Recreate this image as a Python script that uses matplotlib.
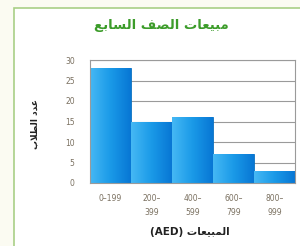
import matplotlib
matplotlib.use("Agg")
import matplotlib.pyplot as plt
import numpy as np
from matplotlib.patches import Rectangle
from matplotlib.colors import LinearSegmentedColormap

# data
bins = ["0–199", "200–\n399", "400–\n599", "600–\n799", "800–\n999"]
students = [28, 15, 16, 7, 3]

# Arabic text, already shaped and in visual order (matplotlib has no bidi)
title_vis = "\uFECA\uFE91\uFE8E\uFEB4\uFEDF\uFE8D \uFED2\uFEBC\uFEDF\uFE8D \uFE95\uFE8E\uFECC\uFEF4\uFE92\uFEE3"
ylabel_vis = "\uFE8F\uFEFC\uFEC4\uFEDF\uFE8D \uFEA9\uFEAA\uFECB"
xlabel_vis = "(AED) \uFE95\uFE8E\uFECC\uFEF4\uFE92\uFEE4\uFEDF\uFE8D"

fig = plt.figure(figsize=(3.0, 2.46), dpi=100, facecolor="#fbfbf2")

# outer green frame
fig.patches.append(Rectangle((14 / 300, -0.05), 1.0, 1 - 8 / 246 + 0.05,
                             transform=fig.transFigure, facecolor="white",
                             edgecolor="#a9cf86", linewidth=1.2, zorder=-5))

ax = fig.add_axes([90 / 300, 1 - 183 / 246, 205 / 300, 123 / 246])
ax.set_zorder(1)
x = np.arange(len(bins))
bars = ax.bar(x, students, width=1.0, color="#1a98e6", edgecolor="#0b6fc0",
              linewidth=0.6, zorder=2)

# horizontal gradient inside each bar
cmap = LinearSegmentedColormap.from_list("blu", ["#45b8f4", "#1a9ae8", "#0877d4"])
grad = np.linspace(0, 1, 64).reshape(1, -1)
for b in bars:
    x0, w, h = b.get_x(), b.get_width(), b.get_height()
    im = ax.imshow(grad, cmap=cmap, extent=[x0, x0 + w, 0, h], aspect="auto",
                   zorder=2.5)
    im.set_clip_path(b)

ax.set_xlim(-0.5, len(bins) - 0.5)
ax.set_ylim(0, 30)
ax.set_yticks(range(0, 31, 5))
ax.set_xticks(x)
ax.set_xticklabels(bins, linespacing=1.7)
ax.tick_params(length=0, labelsize=5.5, colors="#7a7060", pad=8)
ax.tick_params(axis="y", pad=11)
ax.grid(axis="y", color="#9a9a9a", linewidth=0.8, zorder=1)
for s in ax.spines.values():
    s.set_color("#9a9a9a")
    s.set_linewidth(0.8)

fig.text(161 / 300, 1 - 26 / 246, title_vis, ha="center", va="center",
         fontsize=9.5, fontweight="bold", color="#3c9c2a")
fig.text(35 / 300, 1 - 124 / 246, ylabel_vis, ha="center", va="center",
         rotation=90, fontsize=6.5, fontweight="bold", color="#222222")
fig.text(190 / 300, 1 - 232 / 246, xlabel_vis, ha="center", va="center",
         fontsize=7.5, fontweight="bold", color="#222222")

fig.savefig("out.png", dpi=100, facecolor=fig.get_facecolor())
